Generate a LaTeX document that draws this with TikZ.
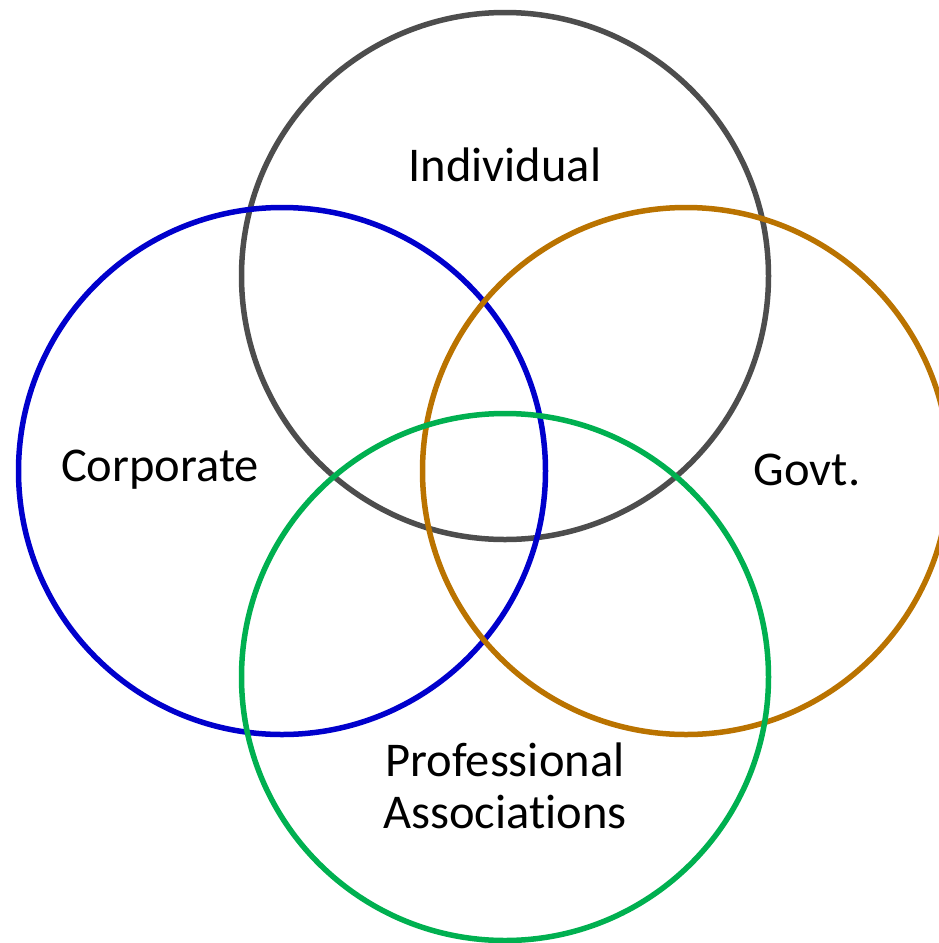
\documentclass[tikz,border=0pt]{standalone}
\usepackage{fontspec}
\setmainfont{Carlito}[Ligatures={NoCommon}]
\definecolor{cgray}{HTML}{4D4D4D}
\definecolor{cblue}{HTML}{0000CC}
\definecolor{cbrown}{HTML}{BA7300}
\definecolor{cgreen}{HTML}{00B050}
\begin{document}
\begin{tikzpicture}[x=1pt,y=-1pt,
  ring/.style={line width=5.5pt},
  lbl/.style={font=\fontsize{48.5}{52}\selectfont, text=black, align=center, inner sep=0pt}]
\useasboundingbox (0,0) rectangle (939,943);
\begin{scope}
\clip (0,0) rectangle (939,943);
\draw[ring, cgray]  (505,276) circle[radius=263.5];
\draw[ring, cblue]  (282,471) circle[radius=263.5];
\draw[ring, cbrown] (686,471) circle[radius=263.5];
\draw[ring, cgreen] (505,677) circle[radius=263.5];
\end{scope}
\node[lbl] (ind) at (505,165) {Individual};
\node[lbl] (cor) at (160,470) {Corporate};
\node[lbl] (gov) at (807,470) {Govt.};
\node[lbl] (pro) at (505,786) {Professional\\Associat\kern0pt ions};
\end{tikzpicture}
\end{document}
